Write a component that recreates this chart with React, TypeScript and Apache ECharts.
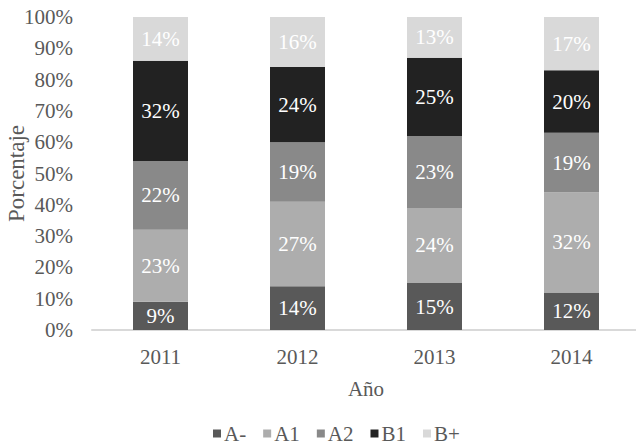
import React, { useEffect, useRef } from "react";
import * as echarts from "echarts";

const categories = ["2011", "2012", "2013", "2014"];
const seriesNames = ["A-", "A1", "A2", "B1", "B+"];
const aMinus = [9, 14, 15, 12];
const a1 = [23, 27, 24, 32];
const a2 = [22, 19, 23, 19];
const b1 = [32, 24, 25, 20];
const bPlus = [14, 16, 13, 17];
const colors = ["#595959", "#adadad", "#898989", "#222222", "#d9d9d9"];

const FONT = "'Liberation Serif', 'Times New Roman', serif";
const FS = 21;

export default function App() {
  const ref = useRef<HTMLDivElement>(null);
  useEffect(() => {
    if (!ref.current) return;
    const chart = echarts.init(ref.current, null, { renderer: "svg" });
    const values = [aMinus, a1, a2, b1, bPlus];
    chart.setOption({
      animation: false,
      textStyle: { fontFamily: FONT },
      grid: {
        left: 92,
        right: 0,
        top: 17,
        bottom: 114,
        containLabel: false,
        outerBoundsMode: "none",
      },
      legend: {
        top: 418,
        left: 208,
        icon: "rect",
        itemWidth: 8,
        itemHeight: 8,
        itemGap: 17,
        textStyle: { fontFamily: FONT, fontSize: FS, color: "#595959", padding: [0, 0, 0, -2] },
        data: seriesNames,
      },
      xAxis: {
        type: "category",
        data: categories,
        name: "Año",
        nameLocation: "middle",
        nameGap: 48,
        nameMoveOverlap: false,
        nameTextStyle: { fontFamily: FONT, fontSize: FS, color: "#595959" },
        axisLine: { lineStyle: { color: "#d9d9d9", width: 2 } },
        axisTick: { show: false },
        axisLabel: { fontFamily: FONT, fontSize: FS, color: "#595959", margin: 16 },
      },
      yAxis: {
        type: "value",
        min: 0,
        max: 100,
        interval: 10,
        name: "Porcentaje",
        nameLocation: "middle",
        nameGap: 64,
        nameMoveOverlap: false,
        nameTextStyle: { fontFamily: FONT, fontSize: 23, color: "#595959" },
        axisLine: { show: false },
        axisTick: { show: false },
        splitLine: { show: false },
        axisLabel: {
          fontFamily: FONT,
          fontSize: FS,
          color: "#595959",
          margin: 19,
          formatter: (v: number) => v + "%",
        },
      },
      series: seriesNames.map((name, i) => ({
        name,
        type: "bar",
        stack: "total",
        barWidth: 55,
        data: values[i],
        itemStyle: { color: colors[i] },
        label: {
          show: true,
          position: "inside",
          color: "#ffffff",
          fontFamily: FONT,
          fontSize: FS,
          formatter: (p: any) => p.value + "%",
        },
      })),
    });
    return () => chart.dispose();
  }, []);
  return (
    <div
      ref={ref}
      style={{ position: "absolute", left: 0, top: 0, width: 640, height: 444 }}
    />
  );
}
